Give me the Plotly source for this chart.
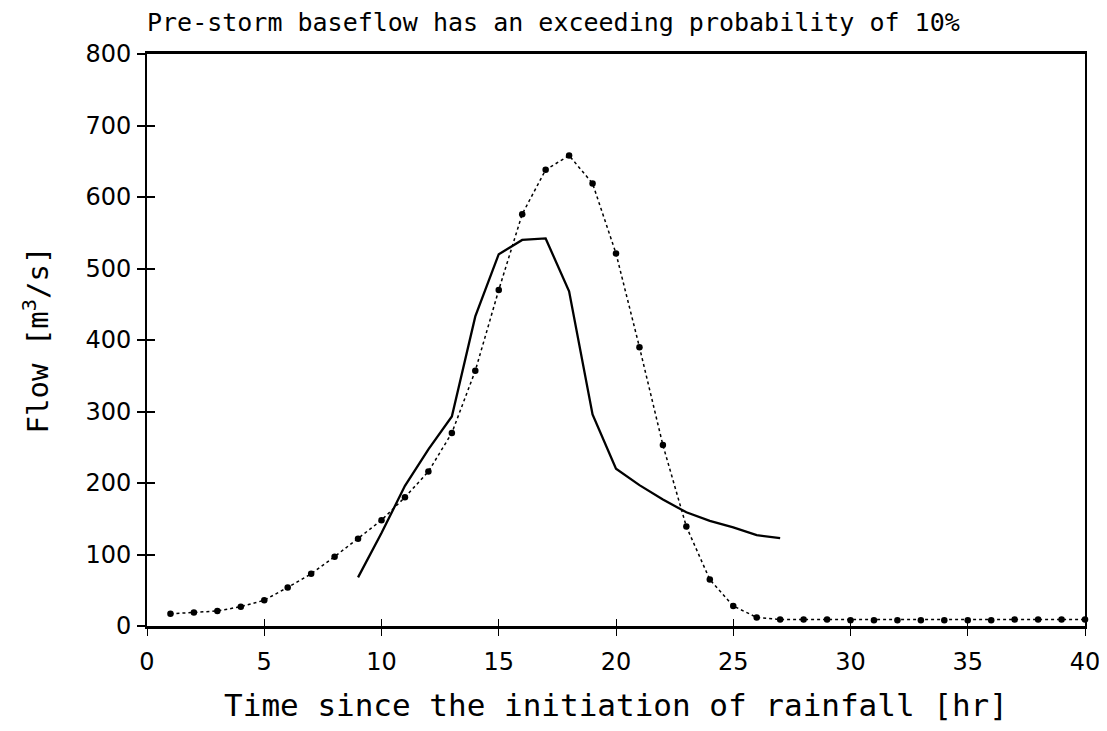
import plotly.graph_objects as go

hours_obs = list(range(1, 41))
flow_obs = [17, 19, 21, 27, 36, 54, 73, 97, 122, 148,
            180, 216, 270, 357, 470, 576, 638, 658, 619, 521,
            390, 253, 139, 65, 28, 12, 9, 9, 9, 8,
            8, 8, 8, 8, 8, 8, 9, 9, 9, 9]

hours_sim = list(range(9, 28))
flow_sim = [68, 130, 196, 247, 293, 433, 520, 540, 542, 468,
            296, 220, 197, 177, 159, 147, 138, 127, 123]

x_ticks = [0, 5, 10, 15, 20, 25, 30, 35, 40]
y_ticks = [0, 100, 200, 300, 400, 500, 600, 700, 800]

TICKFONT = "'DejaVu Sans', sans-serif"
TITLEFONT = "'DejaVu Sans Mono', monospace"

W, H = 1099, 723

fig = go.Figure()
fig.add_trace(go.Scatter(
    x=hours_obs, y=flow_obs, mode="lines+markers",
    line=dict(color="black", width=1.5, dash="dot"),
    marker=dict(color="black", size=6.5),
    showlegend=False, cliponaxis=False))
fig.add_trace(go.Scatter(
    x=hours_sim, y=flow_sim, mode="lines",
    line=dict(color="black", width=2.3),
    showlegend=False))

fig.update_layout(
    width=W, height=H,
    margin=dict(l=139, r=22, t=46, b=105, autoexpand=False),
    paper_bgcolor="white", plot_bgcolor="white",
    font=dict(family=TICKFONT, color="black", size=24),
    title=dict(text="Pre-storm baseflow has an exceeding probability of 10%",
               x=0, xref="paper", xanchor="left",
               y=1 - 14 / H, yref="container", yanchor="middle",
               font=dict(size=25, family=TITLEFONT)),
    xaxis=dict(range=[0, 40], tickvals=x_ticks, ticktext=[str(v) for v in x_ticks],
               showgrid=False, zeroline=False, showline=True, linecolor="black",
               linewidth=3, mirror=True, ticks="outside", ticklen=7, tickwidth=1,
               tickcolor="black", tickfont=dict(size=24), ticklabelstandoff=5,
               title=dict(text="Time since the initiation of rainfall [hr]",
                          font=dict(size=31, family=TITLEFONT), standoff=20)),
    yaxis=dict(range=[0, 800], tickvals=y_ticks, ticktext=[str(v) for v in y_ticks],
               showgrid=False, zeroline=False, showline=True, linecolor="black",
               linewidth=2, mirror=True, ticks="outside", ticklen=8, tickwidth=2,
               tickcolor="black", tickfont=dict(size=24), ticklabelstandoff=1,
               title=dict(text="Flow [m<sup>3</sup>/s]",
                          font=dict(size=29, family=TITLEFONT), standoff=28)),
    xaxis2=dict(range=[0, 40], tickvals=x_ticks, overlaying="x", matches="x",
                showticklabels=False, ticks="inside", ticklen=7, tickwidth=1,
                tickcolor="black", showgrid=False, zeroline=False, showline=False),
    yaxis2=dict(range=[0, 800], tickvals=y_ticks, overlaying="y", side="left",
                showticklabels=False, ticks="inside", ticklen=8, tickwidth=2,
                tickcolor="black", showgrid=False, zeroline=False, showline=False),
)
# invisible trace to activate the overlay axes (ticks crossing the axis lines)
fig.add_trace(go.Scatter(x=[hours_obs[0]], y=[flow_obs[0]], xaxis="x2", yaxis="y2",
                         mode="markers", marker=dict(opacity=0), showlegend=False,
                         hoverinfo="skip"))

fig.write_html("out.html")
